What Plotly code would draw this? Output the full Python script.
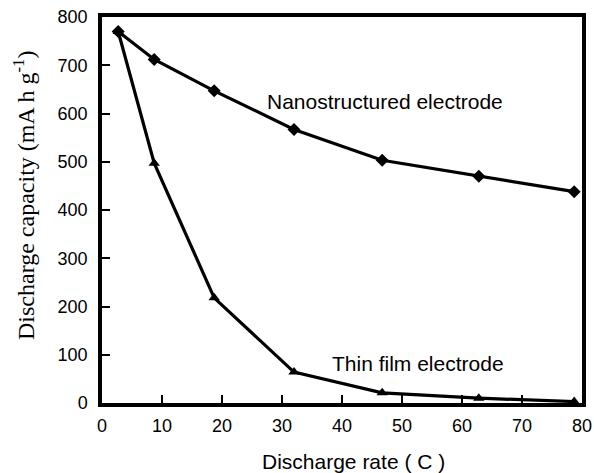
import plotly.graph_objects as go

rate_nano = [2.7, 8.7, 18.7, 32.0, 46.7, 62.8, 78.7]
cap_nano = [770, 712, 647, 567, 503, 470, 438]
rate_thin = [2.7, 8.7, 18.7, 32.0, 46.7, 62.8, 78.7]
cap_thin = [770, 497, 218, 64, 21, 10, 3]

x_ticks = [0, 10, 20, 30, 40, 50, 60, 70, 80]
y_ticks = [0, 100, 200, 300, 400, 500, 600, 700, 800]

SANS = "Liberation Sans, Arial"
SERIF = "Liberation Serif, Times New Roman"

W, H = 594, 473
L, T, R, B = 102, 17, 582, 403  # plot box in page pixels
PW, PH = R - L, B - T

fig = go.Figure()
fig.add_trace(go.Scatter(x=rate_nano, y=cap_nano, mode="lines+markers",
                         line=dict(color="black", width=3.2),
                         marker=dict(symbol="diamond", size=10, color="black"),
                         name="Nanostructured electrode", cliponaxis=False))
fig.add_trace(go.Scatter(x=rate_thin, y=cap_thin, mode="lines+markers",
                         line=dict(color="black", width=3.2),
                         marker=dict(symbol="triangle-up", size=10, color="black"),
                         name="Thin film electrode", cliponaxis=False))

fig.add_annotation(x=47.2, y=625, text="Nanostructured electrode", showarrow=False,
                   font=dict(family=SANS, size=21, color="black"))
fig.add_annotation(x=52.6, y=82, text="Thin film electrode", showarrow=False,
                   font=dict(family=SANS, size=21, color="black"))
# axis titles
fig.add_annotation(xref="paper", yref="paper", x=(353 - L) / PW, y=-(461 - B) / PH,
                   text="Discharge rate ( C )", showarrow=False, yanchor="middle",
                   font=dict(family=SANS, size=21, color="black"))
fig.add_annotation(xref="paper", yref="paper", x=-(L - 24) / PW, y=(B - 196) / PH,
                   text="Discharge capacity (mA h g<sup>-1</sup>)", showarrow=False,
                   textangle=-90, xanchor="center", yanchor="middle",
                   font=dict(family=SERIF, size=24, color="black"))

fig.update_layout(
    width=W, height=H,
    margin=dict(l=L, r=W - R, t=T, b=H - B),
    paper_bgcolor="white", plot_bgcolor="white",
    showlegend=False,
    font=dict(family=SANS, size=18, color="black"),
)
fig.update_xaxes(range=[0, 80], tickvals=x_ticks, ticks="inside", ticklen=8, tickwidth=2,
                 tickcolor="black", showline=True, linecolor="black", linewidth=3.5, mirror=True,
                 showgrid=False, zeroline=False, automargin=False,
                 ticklabeloverflow="allow", ticklabelstandoff=4,
                 tickfont=dict(family=SANS, size=18))
fig.update_yaxes(range=[0, 800], tickvals=y_ticks, ticks="inside", ticklen=8, tickwidth=2,
                 tickcolor="black", showline=True, linecolor="black", linewidth=3.5, mirror=True,
                 showgrid=False, zeroline=False, automargin=False,
                 ticklabeloverflow="allow", ticklabelstandoff=7,
                 tickfont=dict(family=SANS, size=18))

# remove the page's default 8px body margin so the figure sits at the top-left corner
fig.write_html("out.html", config={"displayModeBar": False},
               post_script="document.body.style.margin='0';document.body.style.overflow='hidden';")
